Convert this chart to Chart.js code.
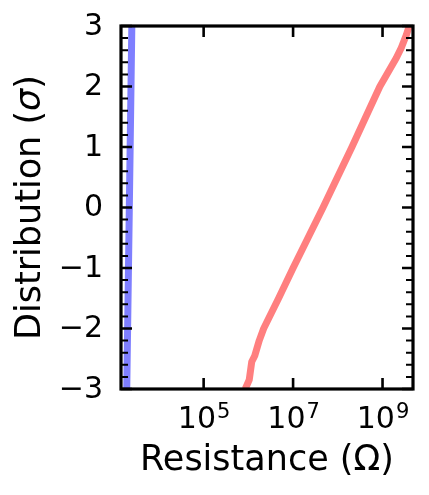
<!DOCTYPE html>
<html>
<head>
<meta charset="utf-8">
<script src="https://cdn.jsdelivr.net/npm/chart.js@4.4.1/dist/chart.umd.min.js"></script>
<style>
  html, body { margin: 0; padding: 0; background: #fff; }
</style>
</head>
<body>
<canvas id="chart" width="429" height="495"></canvas>
<script>
// narrow distribution (blue) and wide one (red)
const blueResistance = [1910, 2180, 2480];
const blueSigma = [-3, 0, 3];

const redResistance = [8.51e5, 1.045e6, 1.19e6, 1.39e6, 1.75e6, 2.2e6, 4.75e6, 1.0e7,
  2.16e7, 4.67e7, 9.82e7, 2.07e8, 4.24e8, 8.71e8, 2.03e9, 2.63e9, 3.4e9, 3.96e9];
const redSigma = [-3.0, -2.85, -2.55, -2.45, -2.2, -2.0, -1.5, -1.0,
  -0.5, 0.0, 0.5, 1.0, 1.5, 2.0, 2.47, 2.64, 2.85, 3.0];

const xTicks = [1e5, 1e7, 1e9];
const xTickExponents = ["5", "7", "9"];
const yTicks = [-3, -2, -1, 0, 1, 2, 3];

const FONT = "'DejaVu Sans', sans-serif";

function toPoints(xs, ys) {
  return xs.map((v, i) => ({ x: v, y: ys[i] }));
}

// frame, inward ticks, tick labels and axis titles (matplotlib look)
const framePlugin = {
  id: "frame",
  afterDatasetsDraw(chart) {
    const { ctx, chartArea: a, scales } = chart;
    const xs = scales.x, ys = scales.y;
    ctx.save();
    ctx.strokeStyle = "#000";
    ctx.lineCap = "butt";

    // minor y ticks every 0.2
    ctx.lineWidth = 2;
    for (let k = -15; k <= 15; k++) {
      if (k % 5 === 0) continue;
      const py = ys.getPixelForValue(k / 5);
      ctx.beginPath();
      ctx.moveTo(a.left, py); ctx.lineTo(a.left + 7, py);
      ctx.moveTo(a.right, py); ctx.lineTo(a.right - 7, py);
      ctx.stroke();
    }
    // major ticks
    ctx.lineWidth = 2.6;
    yTicks.forEach((v) => {
      const py = ys.getPixelForValue(v);
      ctx.beginPath();
      ctx.moveTo(a.left, py); ctx.lineTo(a.left + 11, py);
      ctx.moveTo(a.right, py); ctx.lineTo(a.right - 11, py);
      ctx.stroke();
    });
    xTicks.forEach((v) => {
      const px = xs.getPixelForValue(v);
      ctx.beginPath();
      ctx.moveTo(px, a.bottom); ctx.lineTo(px, a.bottom - 11);
      ctx.moveTo(px, a.top); ctx.lineTo(px, a.top + 11);
      ctx.stroke();
    });

    // spines
    ctx.lineWidth = 3.2;
    ctx.strokeRect(a.left, a.top, a.right - a.left, a.bottom - a.top);

    ctx.fillStyle = "#000";

    // y tick labels
    ctx.font = "30px " + FONT;
    ctx.textAlign = "right";
    ctx.textBaseline = "middle";
    yTicks.forEach((v) => {
      const py = ys.getPixelForValue(v);
      ctx.fillText(String(v).replace("-", "\u2212"), 103, py + 1);
    });

    // x tick labels 10^n
    ctx.textBaseline = "alphabetic";
    ctx.textAlign = "left";
    xTicks.forEach((v, i) => {
      const px = xs.getPixelForValue(v);
      ctx.font = "30px " + FONT;
      const wBase = ctx.measureText("10").width;
      ctx.font = "21px " + FONT;
      const wExp = ctx.measureText(xTickExponents[i]).width;
      const x0 = px - (wBase + wExp) / 2;
      ctx.font = "30px " + FONT;
      ctx.fillText("10", x0, 428);
      ctx.font = "21px " + FONT;
      ctx.fillText(xTickExponents[i], x0 + wBase + 1, 418);
    });

    // x title
    ctx.font = "35px " + FONT;
    ctx.textAlign = "center";
    ctx.fillText("Resistance (\u03A9)", (a.left + a.right) / 2, 470);

    // y title with italic sigma
    const parts = [
      { t: "Distribution (", f: "35px " + FONT },
      { t: "\u03C3", f: "italic 35px " + FONT },
      { t: ")", f: "35px " + FONT },
    ];
    let total = 0;
    parts.forEach((p) => { ctx.font = p.f; p.w = ctx.measureText(p.t).width; total += p.w; });
    ctx.translate(40, (a.top + a.bottom) / 2);
    ctx.rotate(-Math.PI / 2);
    ctx.textAlign = "left";
    let cx = -total / 2;
    parts.forEach((p) => { ctx.font = p.f; ctx.fillText(p.t, cx, 0); cx += p.w; });
    ctx.restore();
  },
};

new Chart(document.getElementById("chart"), {
  type: "line",
  data: {
    datasets: [
      {
        data: toPoints(blueResistance, blueSigma),
        borderColor: "rgba(0, 0, 255, 0.5)",
        borderWidth: 7,
        pointRadius: 0,
      },
      {
        data: toPoints(redResistance, redSigma),
        borderColor: "rgba(255, 0, 0, 0.5)",
        borderWidth: 7,
        pointRadius: 0,
        borderJoinStyle: "round",
      },
    ],
  },
  plugins: [framePlugin],
  options: {
    responsive: false,
    animation: false,
    devicePixelRatio: 1,
    layout: { padding: { top: 26, right: 16, left: 0, bottom: 0 } },
    plugins: { legend: { display: false }, tooltip: { enabled: false } },
    scales: {
      x: {
        type: "logarithmic",
        min: 1420,
        max: 4.8e9,
        grid: { display: false },
        border: { display: false },
        ticks: { display: false },
        afterFit: (s) => { s.height = 106; },
      },
      y: {
        type: "linear",
        min: -3,
        max: 3,
        grid: { display: false, drawTicks: false },
        border: { display: false },
        ticks: { display: false },
        afterFit: (s) => { s.width = 121; },
      },
    },
  },
});
</script>
</body>
</html>
